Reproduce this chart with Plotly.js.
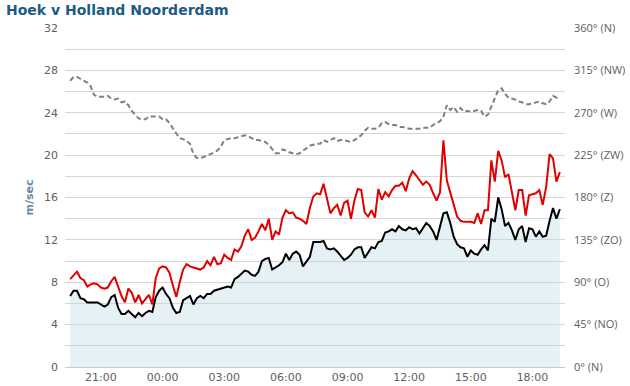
<!DOCTYPE html>
<html>
<head>
<meta charset="utf-8">
<script src="https://cdn.plot.ly/plotly-3.0.1.min.js"></script>
<style>html,body{margin:0;padding:0;background:#fff;}#chart{width:630px;height:386px;}</style>
</head>
<body>
<div id="chart"></div>
<script>
// 10-minute observations, starting 19:30
var startTime = "2024-01-01T19:30:00Z";
var stepMinutes = 10;

var windSpeed = [
6.7, 7.2, 7.2, 6.5, 6.4, 6.1, 6.1, 6.1, 6.1, 5.9,
5.7, 5.9, 6.6, 6.8, 5.6, 5.0, 5.0, 5.3, 5.0, 4.7,
5.1, 4.8, 5.1, 5.3, 5.2, 6.6, 7.2, 7.5,
6.9, 6.5, 5.6, 5.1, 5.2, 6.3, 6.5, 6.7, 5.9, 6.5,
6.7, 6.5, 6.9, 6.9, 7.2, 7.3, 7.4, 7.5, 7.6, 7.5,
8.3, 8.5, 8.8, 9.1, 9.0, 8.7, 8.6, 9.0, 10.0,
10.2, 10.3, 9.2, 9.4, 9.6, 9.9, 10.7, 10.1, 10.7, 10.9,
10.6, 9.5, 10.0, 10.4, 11.8, 11.8, 11.8, 11.9, 11.2, 11.1,
11.2, 10.9, 10.5, 10.1, 10.3, 10.6, 11.1, 11.3, 11.3, 10.3,
10.8, 11.3, 11.2, 11.8, 11.9, 12.7, 12.8, 13.0, 12.8, 13.3,
13.0, 12.9, 13.2, 13.0, 13.1, 12.6, 13.1, 13.6, 13.3, 12.8,
12.0, 13.2, 14.5, 14.6, 13.6, 12.3, 11.6, 11.3, 11.2,
10.4, 11.0, 10.7, 10.6, 11.1, 11.5, 11.0, 14.0, 13.7, 16.0,
14.9, 13.3, 13.6, 12.9, 12.0, 13.0, 13.3, 11.8, 13.1, 13.0,
12.3, 12.8, 12.3, 12.4, 13.8, 15.0, 14.0, 14.9
];

var windGust = [
8.3, 8.7, 9.0, 8.4, 8.2, 7.6, 7.8, 7.9, 7.8, 7.5,
7.4, 7.5, 8.1, 8.5, 7.6, 6.7, 6.1, 7.4, 7.0, 6.1,
6.8, 6.0, 6.4, 6.8, 5.9, 8.4, 9.3, 9.5,
9.4, 8.9, 7.7, 6.6, 8.0, 9.2, 9.7, 9.5, 9.4, 9.3,
9.2, 9.4, 10.0, 9.6, 10.4, 9.7, 9.8, 10.6, 10.3, 10.1,
11.1, 10.9, 11.4, 12.4, 13.0, 12.0, 12.2, 12.8, 13.5,
12.9, 14.0, 12.0, 12.8, 12.5, 14.1, 14.8, 14.5, 14.6, 14.1,
14.0, 13.8, 13.5, 15.0, 16.1, 16.4, 16.3, 17.3, 15.9, 14.5,
15.0, 15.3, 14.3, 15.5, 15.7, 14.0, 15.7, 16.8, 16.7, 14.6,
14.2, 14.8, 14.1, 16.8, 15.8, 16.5, 16.1, 16.7, 17.1, 17.1,
17.4, 16.6, 17.8, 18.5, 18.1, 17.7, 17.2, 17.5, 17.2, 16.4,
15.7, 16.5, 21.4, 17.6, 16.5, 15.3, 14.2, 13.8, 13.7,
13.7, 13.7, 13.6, 14.5, 13.5, 14.8, 14.8, 19.5, 17.5, 20.4,
19.5, 17.9, 18.2, 16.5, 14.8, 16.7, 16.7, 14.3, 16.2, 16.3,
16.4, 16.7, 15.3, 17.0, 20.1, 19.7, 17.5, 18.4
];

var windDirection = [
304, 308, 308, 306, 304, 302, 298, 289, 287, 287,
287, 288, 285, 284, 285, 281, 282, 278, 272, 268,
264, 263, 263, 266, 266, 266, 266, 263,
263, 259, 253, 248, 243, 242, 240, 237, 226, 222,
222, 223, 225, 226, 228, 230, 234, 241, 242, 243,
243, 244, 245, 246, 245, 243, 241, 241, 240,
239, 236, 232, 227, 227, 231, 230, 228, 227, 226,
227, 230, 232, 235, 236, 237, 237, 241, 239, 241,
243, 240, 241, 241, 240, 239, 241, 244, 246, 251,
254, 253, 253, 254, 259, 260, 258, 257, 257, 255,
255, 254, 253, 253, 253, 253, 254, 254, 254, 257,
259, 261, 266, 278, 273, 276, 271, 275, 271,
272, 271, 272, 273, 272, 266, 268, 277, 287, 294,
296, 290, 286, 285, 284, 282, 281, 279, 279, 280,
281, 282, 280, 279, 282, 288, 286, 284
];

var speedTickVals = [0, 2, 4, 6, 8, 10, 12, 14, 16, 18, 20, 22, 24, 26, 28, 30, 32];
var speedTickText = ["0", "", "4", "", "8", "", "12", "", "16", "", "20", "", "24", "", "28", "", "32"];
var dirTickVals = [0, 45, 90, 135, 180, 225, 270, 315, 360];
var dirTickText = ["0° (N)", "45° (NO)", "90° (O)", "135° (ZO)", "180° (Z)", "225° (ZW)", "270° (W)", "315° (NW)", "360° (N)"];

function pad(n) { return (n < 10 ? "0" : "") + n; }
function fmt(d) {
  return d.getUTCFullYear() + "-" + pad(d.getUTCMonth() + 1) + "-" + pad(d.getUTCDate()) + " " +
    pad(d.getUTCHours()) + ":" + pad(d.getUTCMinutes()) + ":" + pad(d.getUTCSeconds());
}
var t0 = new Date(startTime).getTime();
var times = windSpeed.map(function (_, i) { return fmt(new Date(t0 + i * stepMinutes * 60000)); });
var rangeStart = fmt(new Date(t0 - 15 * 60000));
var rangeEnd = fmt(new Date(t0 + (windSpeed.length - 1) * stepMinutes * 60000 + 15 * 60000));

var tickFont = { family: "DejaVu Sans", size: 11, color: "#606060" };

var traces = [
  {
    x: times, y: windSpeed, type: "scatter", mode: "lines", name: "Windsnelheid",
    line: { color: "#000000", width: 2 },
    fill: "tozeroy", fillcolor: "rgba(190,218,228,0.38)", xaxis: "x", yaxis: "y"
  },
  {
    x: times, y: windGust, type: "scatter", mode: "lines", name: "Windstoten",
    line: { color: "#e00000", width: 2 }, xaxis: "x", yaxis: "y"
  },
  {
    x: times, y: windDirection, type: "scatter", mode: "lines", name: "Windrichting",
    line: { color: "#808080", width: 2, dash: "5px,3px" }, xaxis: "x", yaxis: "y2"
  }
];

var layout = {
  width: 630, height: 386,
  margin: { l: 65, r: 65, t: 28, b: 19, pad: 0 },
  paper_bgcolor: "#ffffff", plot_bgcolor: "#ffffff",
  showlegend: false,
  title: {
    text: "Hoek v Holland Noorderdam",
    font: { family: "DejaVu Sans", size: 14, color: "#1d5b84", weight: "bold" },
    xref: "container", yref: "container", x: 6 / 630, xanchor: "left",
    y: 1 - 10 / 386, yanchor: "middle"
  },
  xaxis: {
    type: "date", range: [rangeStart, rangeEnd],
    tickmode: "linear", tick0: "2024-01-01 21:00:00", dtick: 3 * 3600000,
    tickformat: "%H:%M", showgrid: false, zeroline: false,
    showline: true, linecolor: "#c8c8c8", linewidth: 1, ticks: "",
    tickfont: tickFont
  },
  yaxis: {
    range: [0, 32], tickmode: "array", tickvals: speedTickVals, ticktext: speedTickText,
    showgrid: true, gridcolor: "#d6d6d6", gridwidth: 1, zeroline: false, showline: false,
    ticks: "", tickfont: tickFont, ticklabelstandoff: 6,
    title: { text: "m/sec", font: { family: "DejaVu Sans", size: 11, color: "#6a8aa3", weight: "bold" }, standoff: 8 }
  },
  yaxis2: {
    overlaying: "y", side: "right", range: [0, 360], tickmode: "array",
    tickvals: dirTickVals, ticktext: dirTickText, showgrid: false, zeroline: false,
    showline: false, ticks: "", ticklabelstandoff: 8,
    tickfont: { family: "Open Sans", size: 11, color: "#606060" }
  }
};

Plotly.newPlot("chart", traces, layout, { displayModeBar: false, staticPlot: true });
</script>
</body>
</html>
